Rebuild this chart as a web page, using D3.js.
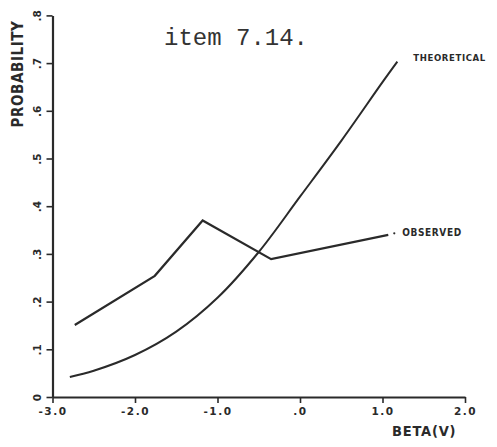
<!DOCTYPE html>
<html>
<head>
<meta charset="utf-8">
<script src="https://cdn.jsdelivr.net/npm/d3@7/dist/d3.min.js"></script>
<style>
  html, body { margin: 0; padding: 0; background: #fff; }
  svg { display: block; }
  .tick text { font-family: "DejaVu Sans", sans-serif; font-weight: bold; fill: #2a2a2a; }
</style>
</head>
<body>
<svg id="chart" width="497" height="447"></svg>
<script>
// Item response curves: theoretical vs observed probability over ability (beta)
const xTicks = [-3, -2, -1, 0, 1, 2];
const xTickLabels = ["-3.0", "-2.0", "-1.0", ".0", "1.0", "2.0"];
const yTicks = [0, 0.1, 0.2, 0.3, 0.4, 0.5, 0.6, 0.7, 0.8];
const yTickLabels = ["0", ".1", ".2", ".3", ".4", ".5", ".6", ".7", ".8"];

const theoreticalBeta = [-2.79, -2.5, -2.0, -1.5, -1.0, -0.5, 0.0, 0.5, 1.0, 1.18];
const theoreticalProb = [0.042, 0.055, 0.088, 0.137, 0.208, 0.304, 0.42, 0.537, 0.66, 0.703];

const observedBeta = [-2.73, -1.76, -1.18, -0.35, 1.07];
const observedProb = [0.151, 0.254, 0.37, 0.289, 0.34];

const ink = "#2a2a2a";
const svg = d3.select("#chart");

const x = d3.scaleLinear().domain([-3, 2]).range([52.5, 465]);
const y = d3.scaleLinear().domain([0, 0.8]).range([397, 15.4]);

// x axis
const xAxis = svg.append("g")
  .attr("transform", `translate(0,${y(0)})`)
  .call(d3.axisBottom(x).tickValues(xTicks).tickSize(6).tickSizeOuter(0)
    .tickFormat((d, i) => xTickLabels[i]));
xAxis.select(".domain").attr("stroke", ink).attr("stroke-width", 2.2);
xAxis.selectAll(".tick line").attr("stroke", ink).attr("stroke-width", 1.6);
xAxis.selectAll(".tick text").attr("y", 11).attr("font-size", 10.5)
  .attr("letter-spacing", 1.5);

// y axis
const yAxis = svg.append("g")
  .attr("transform", `translate(${x(-3)},0)`)
  .call(d3.axisLeft(y).tickValues(yTicks).tickSize(6).tickSizeOuter(0)
    .tickFormat((d, i) => yTickLabels[i]));
yAxis.select(".domain").attr("stroke", ink).attr("stroke-width", 2.2);
yAxis.selectAll(".tick line").attr("stroke", ink).attr("stroke-width", 1.6);
yAxis.selectAll(".tick text")
  .attr("x", null).attr("dy", null)
  .attr("text-anchor", "middle")
  .attr("font-size", 10.5)
  .attr("transform", "translate(-12,0) rotate(-90)");

// axis titles
svg.append("text")
  .attr("transform", `translate(23,74) rotate(-90)`)
  .attr("text-anchor", "middle")
  .attr("font-family", "DejaVu Sans Condensed, DejaVu Sans, sans-serif")
  .attr("font-weight", "bold")
  .attr("font-size", 15)
  .attr("letter-spacing", 0.6)
  .attr("fill", ink)
  .text("PROBABILITY");

svg.append("text")
  .attr("x", 392).attr("y", 436)
  .attr("font-family", "DejaVu Sans Condensed, DejaVu Sans, sans-serif")
  .attr("font-weight", "bold")
  .attr("font-size", 14.5)
  .attr("letter-spacing", 0.8)
  .attr("fill", ink)
  .text("BETA(V)");

// item title
svg.append("text")
  .attr("x", 164).attr("y", 45)
  .attr("font-family", "Liberation Mono, monospace")
  .attr("font-size", 24)
  .attr("fill", "#333")
  .text("item 7.14.");

// curves
const theoretical = theoreticalBeta.map((b, i) => [b, theoreticalProb[i]]);
const observed = observedBeta.map((b, i) => [b, observedProb[i]]);

svg.append("path")
  .datum(theoretical)
  .attr("fill", "none")
  .attr("stroke", ink)
  .attr("stroke-width", 2)
  .attr("d", d3.line().x(d => x(d[0])).y(d => y(d[1])).curve(d3.curveCatmullRom.alpha(0.5)));

svg.append("path")
  .datum(observed)
  .attr("fill", "none")
  .attr("stroke", ink)
  .attr("stroke-width", 2.2)
  .attr("stroke-linejoin", "miter")
  .attr("d", d3.line().x(d => x(d[0])).y(d => y(d[1])));

// series labels
const lastT = theoretical[theoretical.length - 1];
svg.append("text")
  .attr("x", x(lastT[0]) + 16).attr("y", y(lastT[1]) - 1)
  .attr("font-family", "DejaVu Sans Condensed, DejaVu Sans, sans-serif")
  .attr("font-weight", "bold")
  .attr("font-size", 9.5)
  .attr("letter-spacing", 0.6)
  .attr("fill", ink)
  .text("THEORETICAL");

const lastO = observed[observed.length - 1];
svg.append("circle")
  .attr("cx", x(lastO[0]) + 6).attr("cy", y(lastO[1]) - 1.5)
  .attr("r", 1.1).attr("fill", ink);
svg.append("text")
  .attr("x", x(lastO[0]) + 14).attr("y", y(lastO[1]) + 1)
  .attr("font-family", "DejaVu Sans Condensed, DejaVu Sans, sans-serif")
  .attr("font-weight", "bold")
  .attr("font-size", 10)
  .attr("letter-spacing", 0.6)
  .attr("fill", ink)
  .text("OBSERVED");
</script>
</body>
</html>
